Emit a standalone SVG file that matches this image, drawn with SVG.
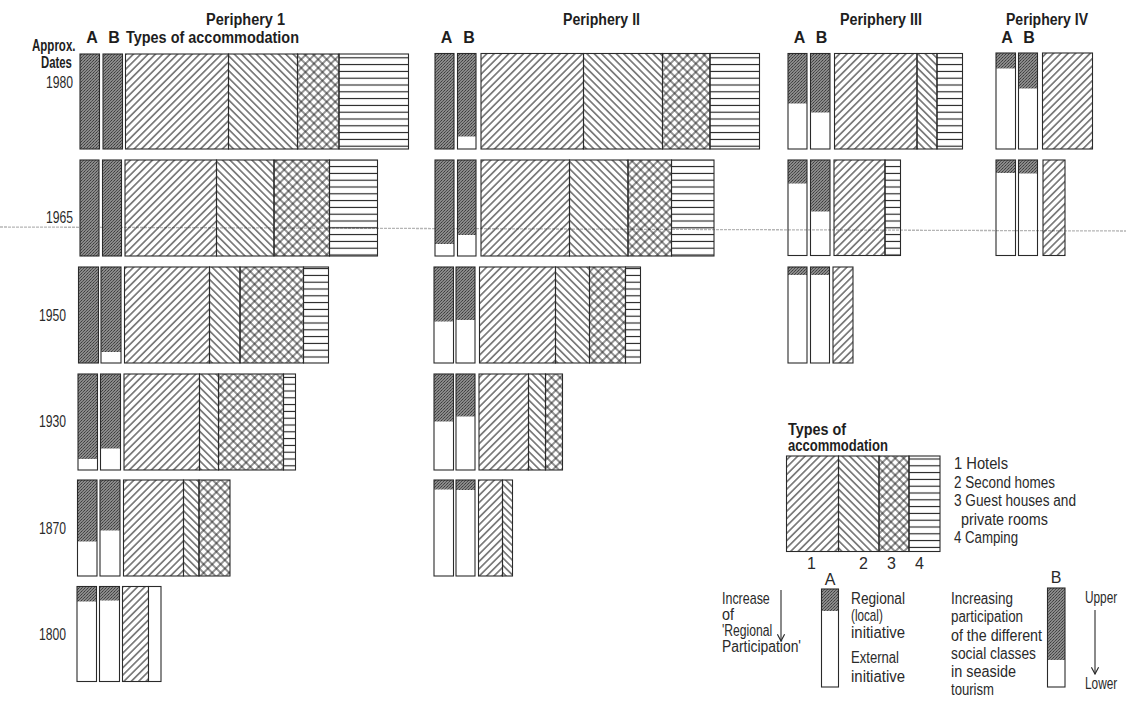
<svg xmlns="http://www.w3.org/2000/svg" width="1126" height="702" viewBox="0 0 1126 702">
<style>
.h{font-family:"Liberation Sans Narrow","Liberation Sans",Arial,sans-serif;font-weight:bold;font-size:16px;fill:#1e1e1e}
.t{font-family:"Liberation Sans Narrow","Liberation Sans",Arial,sans-serif;font-size:16px;fill:#2a2a2a}
.m{text-anchor:middle}
.o{fill:none;stroke:#2a2a2a;stroke-width:1.1}
.g{fill:url(#st)}
.s1{fill:url(#p1);stroke:#2a2a2a;stroke-width:1.1}
.s2{fill:url(#p2);stroke:#2a2a2a;stroke-width:1.1}
.s3{fill:url(#p3);stroke:#2a2a2a;stroke-width:1.1}
.s4{fill:url(#p4);stroke:#2a2a2a;stroke-width:1.1}
.s0{fill:#fff;stroke:#2a2a2a;stroke-width:1.1}
.ar{fill:none;stroke:#2a2a2a;stroke-width:1.1}
</style>
<defs>
<pattern id="st" width="3" height="3" patternUnits="userSpaceOnUse">
<rect width="3" height="3" fill="#8a8a8a"/>
<rect width="1" height="1" fill="#3c3c3c"/>
<rect x="2" y="1" width="1" height="1" fill="#4a4a4a"/>
<rect x="1" y="2" width="1" height="1" fill="#555"/>
</pattern>
<pattern id="p1" width="5.2" height="5.2" patternUnits="userSpaceOnUse" patternTransform="rotate(45)">
<line x1="2.6" y1="0" x2="2.6" y2="5.2" stroke="#1a1a1a" stroke-width="1"/>
</pattern>
<pattern id="p2" width="5.2" height="5.2" patternUnits="userSpaceOnUse" patternTransform="rotate(-45)">
<line x1="2.6" y1="0" x2="2.6" y2="5.2" stroke="#1a1a1a" stroke-width="1"/>
</pattern>
<pattern id="p3" width="6" height="6" patternUnits="userSpaceOnUse" patternTransform="rotate(45)">
<line x1="3" y1="0" x2="3" y2="6" stroke="#1a1a1a" stroke-width="0.95"/>
<line x1="0" y1="3" x2="6" y2="3" stroke="#1a1a1a" stroke-width="0.95"/>
</pattern>
<pattern id="p4" width="10" height="6.8" patternUnits="userSpaceOnUse">
<line x1="0" y1="3.4" x2="10" y2="3.4" stroke="#1a1a1a" stroke-width="1.1"/>
</pattern>
<marker id="ah" viewBox="0 0 10 10" refX="9" refY="5" markerWidth="9" markerHeight="9" orient="auto" markerUnits="userSpaceOnUse">
<path d="M1.5,1 L9,5 L1.5,9" fill="none" stroke="#2a2a2a" stroke-width="1.3"/>
</marker>
</defs>
<rect width="1126" height="702" fill="#fff"/>

<!-- scan line -->
<line x1="0" y1="227" x2="1126" y2="231" stroke="#b5b5b5" stroke-width="1.3" stroke-dasharray="3 1"/>

<g id="headings">
<text class="h" x="206" y="25" textLength="79" lengthAdjust="spacingAndGlyphs">Periphery 1</text>
<text class="h" x="563" y="25" textLength="77" lengthAdjust="spacingAndGlyphs">Periphery II</text>
<text class="h" x="840" y="25" textLength="82" lengthAdjust="spacingAndGlyphs">Periphery III</text>
<text class="h" x="1006" y="25" textLength="82" lengthAdjust="spacingAndGlyphs">Periphery IV</text>
<text class="h m" x="92" y="43">A</text><text class="h m" x="114" y="43">B</text>
<text class="h" x="126" y="43" textLength="173" lengthAdjust="spacingAndGlyphs">Types of accommodation</text>
<text class="h m" x="446.5" y="43">A</text><text class="h m" x="469" y="43">B</text>
<text class="h m" x="799.5" y="43">A</text><text class="h m" x="821.5" y="43">B</text>
<text class="h m" x="1007" y="43">A</text><text class="h m" x="1029" y="43">B</text>
</g>

<g id="dates">
<text class="h" transform="translate(32 51) scale(0.72 1)">Approx.</text>
<text class="h" transform="translate(41 68) scale(0.71 1)">Dates</text>
<text class="t" transform="translate(46 88) scale(0.76 1)">1980</text>
<text class="t" transform="translate(46 223) scale(0.76 1)">1965</text>
<text class="t" transform="translate(39 321) scale(0.76 1)">1950</text>
<text class="t" transform="translate(39 427) scale(0.76 1)">1930</text>
<text class="t" transform="translate(39 534) scale(0.76 1)">1870</text>
<text class="t" transform="translate(39 640) scale(0.76 1)">1800</text>
</g>

<!-- Periphery 1 -->
<g id="p1-1980">
<rect class="g" x="80" y="54" width="19.5" height="95"/><rect class="o" x="80" y="54" width="19.5" height="95"/>
<rect class="g" x="103" y="54" width="19.5" height="95"/><rect class="o" x="103" y="54" width="19.5" height="95"/>
<rect class="s1" x="125.5" y="54" width="103" height="95"/>
<rect class="s2" x="228.5" y="54" width="69" height="95"/>
<rect class="s3" x="297.5" y="54" width="41.5" height="95"/>
<rect class="s4" x="339" y="54" width="69.5" height="95"/>
</g>
<g id="p1-1965">
<rect class="g" x="80" y="160" width="19" height="96"/><rect class="o" x="80" y="160" width="19" height="96"/>
<rect class="g" x="102.5" y="160" width="19" height="96"/><rect class="o" x="102.5" y="160" width="19" height="96"/>
<rect class="s1" x="125" y="160" width="91.5" height="96"/>
<rect class="s2" x="216.5" y="160" width="57.5" height="96"/>
<rect class="s3" x="274" y="160" width="55.5" height="96"/>
<rect class="s4" x="329.5" y="160" width="48" height="96"/>
</g>
<g id="p1-1950">
<rect class="g" x="78.5" y="267" width="20" height="96"/><rect class="o" x="78.5" y="267" width="20" height="96"/>
<rect class="g" x="101" y="267" width="20" height="85"/><rect class="o" x="101" y="267" width="20" height="96"/>
<rect class="s1" x="124.5" y="267" width="85" height="96"/>
<rect class="s2" x="209.5" y="267" width="30.5" height="96"/>
<rect class="s3" x="240" y="267" width="63.5" height="96"/>
<rect class="s4" x="303.5" y="267" width="25" height="96"/>
</g>
<g id="p1-1930">
<rect class="g" x="78" y="374" width="19.5" height="85"/><rect class="o" x="78" y="374" width="19.5" height="96"/>
<rect class="g" x="100.5" y="374" width="20" height="74.5"/><rect class="o" x="100.5" y="374" width="20" height="96"/>
<rect class="s1" x="124" y="374" width="75.5" height="96"/>
<rect class="s2" x="199.5" y="374" width="19" height="96"/>
<rect class="s3" x="218.5" y="374" width="65" height="96"/>
<rect class="s4" x="283.5" y="374" width="12" height="96"/>
</g>
<g id="p1-1870">
<rect class="g" x="77.5" y="480" width="19.5" height="61.5"/><rect class="o" x="77.5" y="480" width="19.5" height="96"/>
<rect class="g" x="100" y="480" width="20" height="50.5"/><rect class="o" x="100" y="480" width="20" height="96"/>
<rect class="s1" x="123.5" y="480" width="60" height="96"/>
<rect class="s2" x="183.5" y="480" width="15.5" height="96"/>
<rect class="s3" x="199" y="480" width="31" height="96"/>
</g>
<g id="p1-1800">
<rect class="g" x="77" y="586.5" width="19.5" height="15"/><rect class="o" x="77" y="586.5" width="19.5" height="95"/>
<rect class="g" x="99.5" y="586.5" width="20" height="14"/><rect class="o" x="99.5" y="586.5" width="20" height="95"/>
<rect class="s1" x="122.5" y="586.5" width="26" height="95"/>
<rect class="s0" x="148.5" y="586.5" width="12.5" height="95"/>
</g>

<!-- Periphery II -->
<g id="p2-1980">
<rect class="g" x="435" y="53.5" width="19" height="95.5"/><rect class="o" x="435" y="53.5" width="19" height="95.5"/>
<rect class="g" x="457.5" y="53.5" width="18.5" height="83"/><rect class="o" x="457.5" y="53.5" width="18.5" height="95.5"/>
<rect class="s1" x="481" y="53.5" width="102.5" height="95.5"/>
<rect class="s2" x="583.5" y="53.5" width="79" height="95.5"/>
<rect class="s3" x="662.5" y="53.5" width="47.5" height="95.5"/>
<rect class="s4" x="710" y="53.5" width="49.5" height="95.5"/>
</g>
<g id="p2-1965">
<rect class="g" x="435" y="160" width="19" height="84"/><rect class="o" x="435" y="160" width="19" height="96"/>
<rect class="g" x="457.5" y="160" width="18.5" height="75"/><rect class="o" x="457.5" y="160" width="18.5" height="96"/>
<rect class="s1" x="481" y="160" width="88.5" height="96"/>
<rect class="s2" x="569.5" y="160" width="58.5" height="96"/>
<rect class="s3" x="628" y="160" width="43.5" height="96"/>
<rect class="s4" x="671.5" y="160" width="42.5" height="96"/>
</g>
<g id="p2-1950">
<rect class="g" x="434" y="267" width="19.5" height="54.5"/><rect class="o" x="434" y="267" width="19.5" height="96"/>
<rect class="g" x="456" y="267" width="19" height="53"/><rect class="o" x="456" y="267" width="19" height="96"/>
<rect class="s1" x="479.5" y="267" width="76" height="96"/>
<rect class="s2" x="555.5" y="267" width="34" height="96"/>
<rect class="s3" x="589.5" y="267" width="36" height="96"/>
<rect class="s4" x="625.5" y="267" width="15" height="96"/>
</g>
<g id="p2-1930">
<rect class="g" x="434" y="374" width="19.5" height="47.5"/><rect class="o" x="434" y="374" width="19.5" height="96"/>
<rect class="g" x="456" y="374" width="19" height="42.5"/><rect class="o" x="456" y="374" width="19" height="96"/>
<rect class="s1" x="479" y="374" width="49.5" height="96"/>
<rect class="s2" x="528.5" y="374" width="17" height="96"/>
<rect class="s3" x="545.5" y="374" width="17" height="96"/>
</g>
<g id="p2-1870">
<rect class="g" x="434" y="480" width="19.5" height="9.5"/><rect class="o" x="434" y="480" width="19.5" height="96"/>
<rect class="g" x="456" y="480" width="19" height="10"/><rect class="o" x="456" y="480" width="19" height="96"/>
<rect class="s1" x="478.5" y="480" width="24" height="96"/>
<rect class="s2" x="502.5" y="480" width="10" height="96"/>
</g>

<!-- Periphery III -->
<g id="p3-1980">
<rect class="g" x="788" y="53.5" width="19" height="50"/><rect class="o" x="788" y="53.5" width="19" height="95.5"/>
<rect class="g" x="810.5" y="53.5" width="19.5" height="59"/><rect class="o" x="810.5" y="53.5" width="19.5" height="95.5"/>
<rect class="s1" x="834.5" y="53.5" width="82.5" height="95.5"/>
<rect class="s2" x="917" y="53.5" width="20" height="95.5"/>
<rect class="s4" x="937" y="53.5" width="25.5" height="95.5"/>
</g>
<g id="p3-1965">
<rect class="g" x="788" y="160" width="19" height="23.5"/><rect class="o" x="788" y="160" width="19" height="95.5"/>
<rect class="g" x="810.5" y="160" width="19.5" height="51.5"/><rect class="o" x="810.5" y="160" width="19.5" height="95.5"/>
<rect class="s1" x="834" y="160" width="51" height="95.5"/>
<rect class="s4" x="885" y="160" width="15.5" height="95.5"/>
</g>
<g id="p3-1950">
<rect class="g" x="788" y="267" width="19" height="8"/><rect class="o" x="788" y="267" width="19" height="96"/>
<rect class="g" x="810.5" y="267" width="19" height="8"/><rect class="o" x="810.5" y="267" width="19" height="96"/>
<rect class="s1" x="833" y="267" width="20" height="96"/>
</g>

<!-- Periphery IV -->
<g id="p4-1980">
<rect class="g" x="996" y="53" width="19.5" height="15.5"/><rect class="o" x="996" y="53" width="19.5" height="96"/>
<rect class="g" x="1018.5" y="53" width="19" height="35.5"/><rect class="o" x="1018.5" y="53" width="19" height="96"/>
<rect class="s1" x="1042.5" y="53" width="50" height="96"/>
</g>
<g id="p4-1965">
<rect class="g" x="996" y="160" width="19.5" height="13"/><rect class="o" x="996" y="160" width="19.5" height="95.5"/>
<rect class="g" x="1018.5" y="160" width="19" height="13.5"/><rect class="o" x="1018.5" y="160" width="19" height="95.5"/>
<rect class="s1" x="1043" y="160" width="22" height="95.5"/>
</g>

<g id="legend-types">
<text class="h" x="788" y="435" textLength="58" lengthAdjust="spacingAndGlyphs">Types of</text>
<text class="h" transform="translate(788 451) scale(0.815 1)">accommodation</text>
<rect class="s1" x="786.5" y="456" width="52" height="95.5"/>
<rect class="s2" x="838.5" y="456" width="40.5" height="95.5"/>
<rect class="s3" x="879" y="456" width="30" height="95.5"/>
<rect class="s4" x="909" y="456" width="31" height="95.5"/>
<text class="t m" x="811.5" y="569">1</text>
<text class="t m" x="863.5" y="569">2</text>
<text class="t m" x="891.5" y="569">3</text>
<text class="t m" x="919.5" y="569">4</text>
<text class="t" x="954" y="469" textLength="54" lengthAdjust="spacingAndGlyphs">1 Hotels</text>
<text class="t" x="954" y="487.5" textLength="101" lengthAdjust="spacingAndGlyphs">2 Second homes</text>
<text class="t" x="954" y="506" textLength="122" lengthAdjust="spacingAndGlyphs">3 Guest houses and</text>
<text class="t" x="961" y="524.5" textLength="87" lengthAdjust="spacingAndGlyphs">private rooms</text>
<text class="t" x="954" y="543" textLength="64" lengthAdjust="spacingAndGlyphs">4 Camping</text>
</g>

<g id="legend-a">
<text class="t" transform="translate(722 604) scale(0.78 1)">Increase</text>
<text class="t" transform="translate(722 620) scale(0.9 1)">of</text>
<text class="t" transform="translate(722 636) scale(0.76 1)">'Regional</text>
<text class="t" x="722" y="652" textLength="79" lengthAdjust="spacingAndGlyphs">Participation'</text>
<line class="ar" x1="781" y1="590" x2="781" y2="641" marker-end="url(#ah)"/>
<text class="t m" x="830" y="585">A</text>
<rect class="g" x="821.5" y="589" width="17" height="22"/><rect class="o" x="821.5" y="589" width="17" height="98"/>
<text class="t" x="851" y="604" textLength="54" lengthAdjust="spacingAndGlyphs">Regional</text>
<text class="t" transform="translate(851 621) scale(0.73 1)">(local)</text>
<text class="t" x="851" y="638" textLength="54" lengthAdjust="spacingAndGlyphs">initiative</text>
<text class="t" x="851" y="663" textLength="48" lengthAdjust="spacingAndGlyphs">External</text>
<text class="t" x="851" y="682" textLength="54" lengthAdjust="spacingAndGlyphs">initiative</text>
</g>

<g id="legend-b">
<text class="t" x="951" y="604" textLength="62" lengthAdjust="spacingAndGlyphs">Increasing</text>
<text class="t" x="951" y="622" textLength="72" lengthAdjust="spacingAndGlyphs">participation</text>
<text class="t" x="951" y="641" textLength="91" lengthAdjust="spacingAndGlyphs">of the different</text>
<text class="t" x="951" y="659" textLength="85" lengthAdjust="spacingAndGlyphs">social classes</text>
<text class="t" x="951" y="677" textLength="65" lengthAdjust="spacingAndGlyphs">in seaside</text>
<text class="t" transform="translate(951 695) scale(0.82 1)">tourism</text>
<text class="t m" x="1056" y="583">B</text>
<rect class="g" x="1047.5" y="588" width="17.5" height="72"/><rect class="o" x="1047.5" y="588" width="17.5" height="99"/>
<text class="t" transform="translate(1085 603) scale(0.74 1)">Upper</text>
<line class="ar" x1="1095" y1="610" x2="1095" y2="674" marker-end="url(#ah)"/>
<text class="t" transform="translate(1085 689) scale(0.74 1)">Lower</text>
</g>
</svg>
